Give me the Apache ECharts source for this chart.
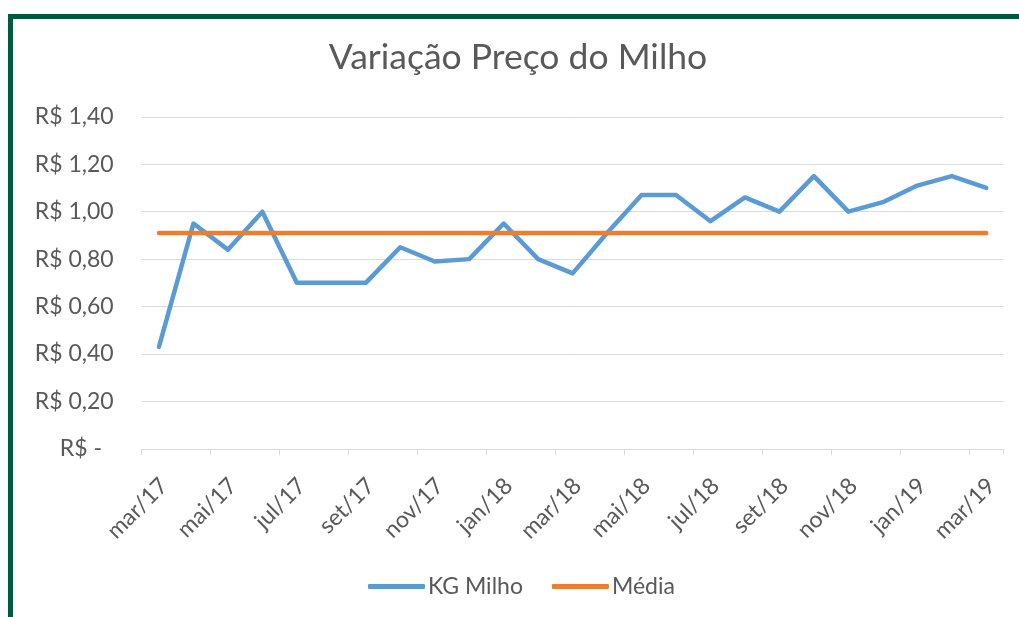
<!DOCTYPE html>
<html>
<head>
<meta charset="utf-8">
<script src="https://cdn.jsdelivr.net/npm/echarts@6/dist/echarts.min.js"></script>
<style>
  html, body { margin: 0; padding: 0; background: #ffffff; }
  #chart { position: absolute; left: 0; top: 0; width: 1019px; height: 617px; }
  #frame { position: absolute; left: 8px; top: 14px; width: 1011px; height: 603px;
           border-top: 5px solid #005a3c; border-left: 5px solid #005a3c; box-sizing: border-box; pointer-events: none; }
</style>
</head>
<body>
<div id="chart"></div>
<div id="frame"></div>
<script>
const months = ['mar/17','abr/17','mai/17','jun/17','jul/17','ago/17','set/17','out/17','nov/17','dez/17',
                'jan/18','fev/18','mar/18','abr/18','mai/18','jun/18','jul/18','ago/18','set/18','out/18',
                'nov/18','dez/18','jan/19','fev/19','mar/19'];
const kgMilho = [0.43,0.95,0.84,1.00,0.70,0.70,0.70,0.85,0.79,0.80,
                 0.95,0.80,0.74,0.91,1.07,1.07,0.96,1.06,1.00,1.15,
                 1.00,1.04,1.11,1.15,1.10];
const media = [0.91,0.91,0.91,0.91,0.91,0.91,0.91,0.91,0.91,0.91,
               0.91,0.91,0.91,0.91,0.91,0.91,0.91,0.91,0.91,0.91,
               0.91,0.91,0.91,0.91,0.91];
const yTicks = [0, 0.2, 0.4, 0.6, 0.8, 1.0, 1.2, 1.4];

const FONT = 'Lato';
const GRAY = '#595959';
const chart = echarts.init(document.getElementById('chart'), null, { renderer: 'canvas' });
chart.setOption({
  animation: false,
  backgroundColor: '#ffffff',
  title: {
    text: 'Variação Preço do Milho',
    left: 513, top: 35, textAlign: 'center',
    textStyle: { fontFamily: FONT, fontSize: 35.5, fontWeight: 'normal', color: GRAY }
  },
  grid: { left: 141.7, right: 15.5, top: 116.8, bottom: 168.1, containLabel: false },
  legend: {
    bottom: 14, left: 363,
    itemWidth: 57, itemHeight: 5, itemGap: 29,
    icon: 'roundRect',
    textStyle: { fontFamily: FONT, fontSize: 23, color: GRAY, padding: [0, 0, 0, -2] },
    data: ['KG Milho', 'Média']
  },
  xAxis: {
    type: 'category',
    data: months,
    boundaryGap: true,
    axisLine: { lineStyle: { color: '#d9d9d9', width: 1 } },
    axisTick: { show: true, interval: 1, length: 6, alignWithLabel: false, lineStyle: { color: '#d9d9d9' } },
    axisLabel: { interval: 1, rotate: 45, margin: 38, padding: [0, -7, 0, 0],
                 fontFamily: FONT, fontSize: 23, color: GRAY }
  },
  yAxis: {
    type: 'value',
    min: yTicks[0], max: yTicks[yTicks.length - 1], interval: 0.2,
    axisLine: { show: false }, axisTick: { show: false },
    splitLine: { lineStyle: { color: '#d9d9d9', width: 1 } },
    axisLabel: {
      margin: 28, fontFamily: FONT, fontSize: 23, color: GRAY,
      formatter: v => (Math.abs(v) < 1e-9 ? 'R$ -  ' : 'R$ ' + v.toFixed(2).replace('.', ','))
    }
  },
  series: [
    { name: 'KG Milho', type: 'line', data: kgMilho, symbol: 'none',
      lineStyle: { color: '#5b9bd5', width: 4.5, cap: 'round', join: 'round' }, itemStyle: { color: '#5b9bd5' } },
    { name: 'Média', type: 'line', data: media, symbol: 'none',
      lineStyle: { color: '#ed7d31', width: 4.5, cap: 'round', join: 'round' }, itemStyle: { color: '#ed7d31' } }
  ]
});
</script>
</body>
</html>
